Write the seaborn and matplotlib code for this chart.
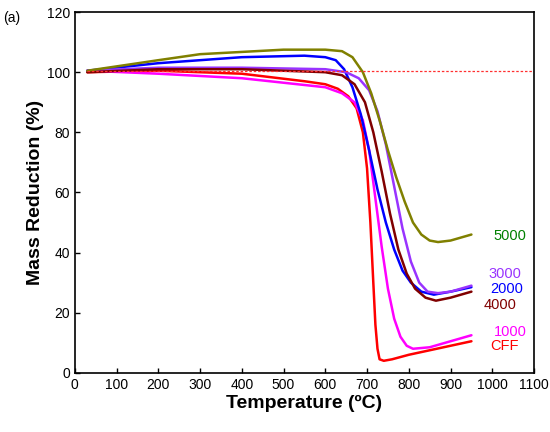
import matplotlib
matplotlib.use("Agg")
import matplotlib.pyplot as plt
import seaborn as sns
import pandas as pd

sns.set_style("ticks")
plt.rcParams['font.family'] = ['Liberation Sans', 'DejaVu Sans']
plt.rcParams.update({"text.color": "black", "axes.labelcolor": "black",
                     "xtick.color": "black", "ytick.color": "black",
                     "axes.edgecolor": "black"})

t_cff = [30, 200, 400, 550, 600, 630, 655, 675, 690, 700, 708, 715, 720, 725, 730, 740, 760, 800, 900, 950]
m_cff = [100, 100.5, 99.5, 97, 96, 94.5, 92, 88, 80, 68, 50, 30, 16, 8, 4.5, 4, 4.5, 6, 9, 10.5]
t_1000 = [30, 200, 400, 600, 640, 670, 690, 705, 720, 735, 750, 765, 780, 795, 810, 850, 950]
m_1000 = [100.5, 99.5, 98, 95, 93, 90, 84, 74, 58, 42, 28, 18, 12, 9, 8, 8.5, 12.5]
t_2000 = [30, 200, 400, 550, 600, 625, 645, 665, 685, 705, 725, 745, 765, 785, 805, 830, 860, 900, 950]
m_2000 = [100.5, 103, 105, 105.5, 105, 104, 101, 95, 86, 74, 61, 50, 41, 34, 30, 27, 26, 27, 28.5]
t_3000 = [30, 200, 400, 600, 650, 680, 705, 725, 745, 765, 785, 805, 825, 845, 870, 900, 950]
m_3000 = [100.5, 101.5, 101.5, 101, 100, 98, 94, 87, 76, 62, 48, 37, 30, 27, 26.5, 27, 29]
t_4000 = [30, 200, 400, 600, 640, 670, 695, 715, 735, 755, 775, 795, 815, 840, 865, 900, 950]
m_4000 = [100, 101, 101, 100, 99, 96, 90, 80, 67, 53, 41, 33, 28, 25, 24, 25, 27]
t_5000 = [30, 200, 300, 500, 600, 640, 665, 690, 710, 730, 750, 770, 790, 810, 830, 850, 870, 900, 950]
m_5000 = [100.5, 104, 106, 107.5, 107.5, 107, 105, 100, 93, 84, 74, 65, 57, 50, 46, 44, 43.5, 44, 46]

series = [("CFF", t_cff, m_cff, "#ff0000", (1030, 9)),
          ("1000", t_1000, m_1000, "#ff00ff", (1042, 13.6)),
          ("2000", t_2000, m_2000, "#0000ff", (1035, 28)),
          ("3000", t_3000, m_3000, "#9933ff", (1030, 33)),
          ("4000", t_4000, m_4000, "#800000", (1018, 22.6)),
          ("5000", t_5000, m_5000, "#808000", (1042, 45.5))]
label_colors = {"5000": "#008000"}

fig = plt.figure(figsize=(5.5, 4.32), dpi=100)
ax = fig.add_axes([0.136, 0.137, 0.835, 0.835])
for name, t, m, c, pos in series:
    df = pd.DataFrame({"T": t, "M": m})
    sns.lineplot(data=df, x="T", y="M", color=c, lw=1.8, ax=ax)
    ax.text(pos[0], pos[1], name, color=label_colors.get(name, c), fontsize=10.5,
            ha="center", va="center")
ax.plot([30, 1100], [100.5, 100.5], ls="--", color="#ff3030", lw=0.9, dashes=(2, 1.5))
ax.set_xlim(0, 1100)
ax.set_ylim(0, 120)
ax.set_xticks(range(0, 1101, 100))
ax.set_yticks(range(0, 121, 20))
ax.tick_params(direction="in", labelsize=10, width=1)
ax.set_xlabel("Temperature (ºC)", fontsize=14, fontweight="bold", labelpad=2)
ax.set_ylabel("Mass Reduction (%)", fontsize=14, fontweight="bold", labelpad=2)
for s in ax.spines.values():
    s.set_linewidth(1.2)
fig.text(0.005, 0.975, "(a)", fontsize=10, va="top")
fig.savefig("out.png", dpi=100)
